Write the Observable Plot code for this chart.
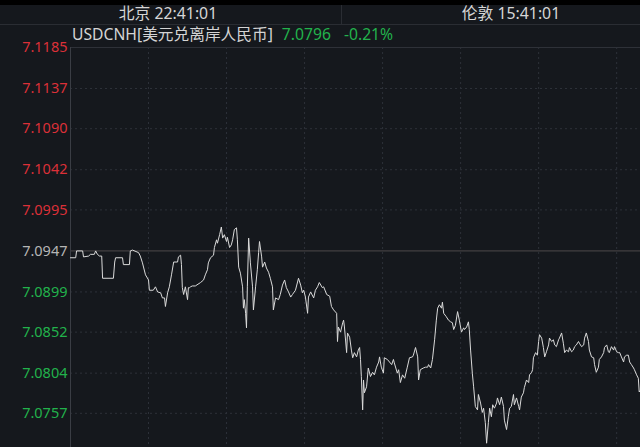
<!DOCTYPE html>
<html><head><meta charset="utf-8">
<script src="https://cdn.jsdelivr.net/npm/d3@7"></script>
<script src="https://cdn.jsdelivr.net/npm/@observablehq/plot@0.6"></script>
<style>
html,body{margin:0;padding:0;background:#15181d;width:640px;height:447px;overflow:hidden;font-family:"Noto Sans","Noto Sans CJK SC",sans-serif;}
#top{height:5px;background:#000;}
#hdr{position:relative;height:19px;border-bottom:1px solid #2a2d33;}
#hdr .t{position:absolute;top:-1px;font-size:15.8px;color:#d6d6d6;line-height:19px;white-space:nowrap;transform:translateX(-50%);}
#hdr .sep{position:absolute;left:341px;top:0;height:19px;width:1px;background:#2a2d33;}
#chart{position:relative;}
#title{position:absolute;left:72px;top:0px;font-size:15.7px;line-height:18px;color:#d4d4d4;white-space:nowrap;}
#title .g{color:#22b24c;}
svg{display:block;}
</style></head>
<body>
<div id="top"></div>
<div id="hdr"><span class="t" id="bj" style="left:168px"></span><span class="sep"></span><span class="t" id="ld" style="left:511px"></span></div>
<div id="chart"><div id="title"></div></div>
<script>
const headerTimes = ["北京 22:41:01", "伦敦 15:41:01"];
const symbolName = "USDCNH[美元兑离岸人民币]";
const lastPrice = "7.0796";
const changePct = "-0.21%";
const basePrice = 7.0947;
const tickValues = [7.1185, 7.1137, 7.1090, 7.1042, 7.0995, 7.0947, 7.0899, 7.0852, 7.0804, 7.0757];
const tickLabels = ["7.1185", "7.1137", "7.1090", "7.1042", "7.0995", "7.0947", "7.0899", "7.0852", "7.0804", "7.0757"];
const gridMinutes = [180, 360, 540, 720, 900, 1080, 1260];
const minutes = [0,12,14,28,30,42,46,55,58,62,67,72,74,99,102,104,120,122,136,138,143,157,161,166,173,180,182,191,196,201,208,212,217,219,224,228,233,238,247,249,254,256,258,261,265,270,272,275,277,281,288,300,307,311,316,318,323,330,332,337,339,344,348,351,355,360,362,367,371,374,378,383,385,388,392,397,399,401,404,406,408,411,415,420,422,427,431,434,436,441,443,448,452,457,461,466,468,473,480,484,489,494,498,503,508,512,519,526,531,535,538,542,547,549,554,561,565,570,574,581,584,591,598,602,607,614,616,618,623,628,630,632,637,639,644,648,651,655,660,664,667,669,671,674,676,678,683,687,692,697,701,706,711,713,717,722,724,731,736,741,745,747,754,757,761,766,771,777,782,789,791,796,801,803,807,814,819,824,826,831,835,840,844,847,851,856,858,861,867,872,877,881,884,888,893,897,902,907,909,914,918,920,923,927,930,934,939,941,946,950,953,957,960,964,967,971,974,978,983,985,990,994,999,1001,1006,1010,1013,1017,1022,1024,1029,1034,1036,1040,1045,1047,1052,1057,1059,1064,1066,1068,1073,1077,1080,1082,1087,1091,1094,1098,1103,1105,1110,1114,1117,1121,1126,1128,1133,1137,1140,1144,1149,1151,1156,1160,1163,1167,1172,1174,1179,1184,1186,1190,1195,1197,1202,1207,1209,1213,1218,1220,1225,1230,1232,1237,1241,1243,1248,1253,1255,1260,1264,1267,1271,1276,1278,1283,1287,1290,1294,1299,1301,1306,1310,1312,1315];
const prices = [7.0939,7.0939,7.0947,7.0947,7.0940,7.0941,7.0943,7.0943,7.0947,7.0943,7.0941,7.0941,7.0915,7.0915,7.0934,7.0939,7.0939,7.0931,7.0931,7.0947,7.0948,7.0945,7.0941,7.0933,7.0919,7.0913,7.0901,7.0901,7.0905,7.0899,7.0898,7.0892,7.0892,7.0882,7.0898,7.0905,7.0919,7.0934,7.0934,7.0940,7.0942,7.0931,7.0904,7.0896,7.0905,7.0890,7.0904,7.0904,7.0905,7.0906,7.0906,7.0910,7.0913,7.0919,7.0925,7.0933,7.0939,7.0942,7.0951,7.0960,7.0956,7.0966,7.0975,7.0962,7.0966,7.0958,7.0963,7.0951,7.0954,7.0960,7.0972,7.0974,7.0960,7.0928,7.0921,7.0905,7.0880,7.0890,7.0874,7.0857,7.0905,7.0962,7.0933,7.0905,7.0878,7.0905,7.0925,7.0945,7.0958,7.0940,7.0928,7.0934,7.0927,7.0922,7.0915,7.0905,7.0878,7.0892,7.0890,7.0896,7.0907,7.0913,7.0904,7.0899,7.0893,7.0896,7.0901,7.0915,7.0907,7.0898,7.0901,7.0893,7.0874,7.0893,7.0899,7.0892,7.0901,7.0905,7.0910,7.0904,7.0905,7.0896,7.0894,7.0882,7.0878,7.0874,7.0841,7.0858,7.0852,7.0863,7.0866,7.0858,7.0828,7.0851,7.0846,7.0831,7.0822,7.0828,7.0823,7.0831,7.0834,7.0820,7.0800,7.0761,7.0796,7.0781,7.0788,7.0810,7.0800,7.0805,7.0802,7.0811,7.0817,7.0823,7.0811,7.0804,7.0822,7.0820,7.0817,7.0814,7.0820,7.0816,7.0804,7.0808,7.0793,7.0802,7.0798,7.0811,7.0822,7.0823,7.0825,7.0834,7.0823,7.0796,7.0808,7.0810,7.0811,7.0811,7.0814,7.0810,7.0820,7.0843,7.0866,7.0880,7.0884,7.0880,7.0887,7.0874,7.0870,7.0866,7.0864,7.0863,7.0855,7.0860,7.0876,7.0866,7.0852,7.0857,7.0855,7.0858,7.0864,7.0855,7.0831,7.0804,7.0788,7.0765,7.0761,7.0779,7.0769,7.0758,7.0763,7.0746,7.0722,7.0746,7.0763,7.0753,7.0767,7.0763,7.0769,7.0775,7.0767,7.0776,7.0765,7.0749,7.0738,7.0753,7.0763,7.0765,7.0779,7.0767,7.0775,7.0765,7.0761,7.0776,7.0781,7.0787,7.0796,7.0793,7.0802,7.0805,7.0808,7.0822,7.0828,7.0825,7.0841,7.0849,7.0845,7.0834,7.0823,7.0829,7.0837,7.0845,7.0841,7.0843,7.0837,7.0835,7.0843,7.0845,7.0851,7.0839,7.0828,7.0831,7.0829,7.0834,7.0829,7.0831,7.0835,7.0837,7.0841,7.0839,7.0835,7.0837,7.0845,7.0851,7.0841,7.0831,7.0823,7.0822,7.0814,7.0805,7.0811,7.0820,7.0823,7.0828,7.0834,7.0837,7.0829,7.0828,7.0835,7.0831,7.0835,7.0829,7.0828,7.0828,7.0823,7.0817,7.0823,7.0825,7.0825,7.0817,7.0814,7.0810,7.0808,7.0802,7.0798,7.0782,7.0784];

document.getElementById("bj").textContent = headerTimes[0];
document.getElementById("ld").textContent = headerTimes[1];
const title = document.getElementById("title");
title.innerHTML = symbolName + '<span class="g" style="margin-left:9px">' + lastPrice + '</span><span class="g" style="margin-left:13px">' + changePct + '</span>';

const series = minutes.map((t, i) => ({t, p: prices[i]}));
const ticks = tickValues.map((v, i) => ({v, label: tickLabels[i]}));
const topTick = tickValues[0];
const innerGrid = tickValues.filter(v => v !== topTick && v !== basePrice);

const labelFont = {frameAnchor: "left", textAnchor: "end", dx: -3, fontSize: 14.5, y: "v", text: "label"};
const chart = Plot.plot({
  width: 640, height: 422,
  marginLeft: 70, marginRight: 0, marginTop: 22, marginBottom: 0,
  style: {background: "transparent", fontFamily: '"Noto Sans","Noto Sans CJK SC",sans-serif', fontSize: "15px", overflow: "visible"},
  x: {domain: [0, 1315], axis: null},
  y: {domain: [7.0717, 7.1185], axis: null},
  marks: [
    Plot.ruleX(gridMinutes, {stroke: "#2d3139", strokeDasharray: "2,3"}),
    Plot.ruleY(innerGrid, {stroke: "#2d3139", strokeDasharray: "2,3"}),
    Plot.ruleY([topTick], {stroke: "#2e3138"}),
    Plot.ruleY([basePrice], {stroke: "#4e4a4b"}),
    Plot.ruleX([0], {stroke: "#3a3d44"}),
    Plot.line(series, {x: "t", y: "p", stroke: "#dadada", strokeWidth: 1}),
    Plot.text(ticks.filter(d => d.v > basePrice), {...labelFont, fill: "#dc3038"}),
    Plot.text(ticks.filter(d => d.v === basePrice), {...labelFont, fill: "#b5b5b5"}),
    Plot.text(ticks.filter(d => d.v < basePrice), {...labelFont, fill: "#22b24c"})
  ]
});
document.getElementById("chart").appendChild(chart);
</script>
</body></html>
